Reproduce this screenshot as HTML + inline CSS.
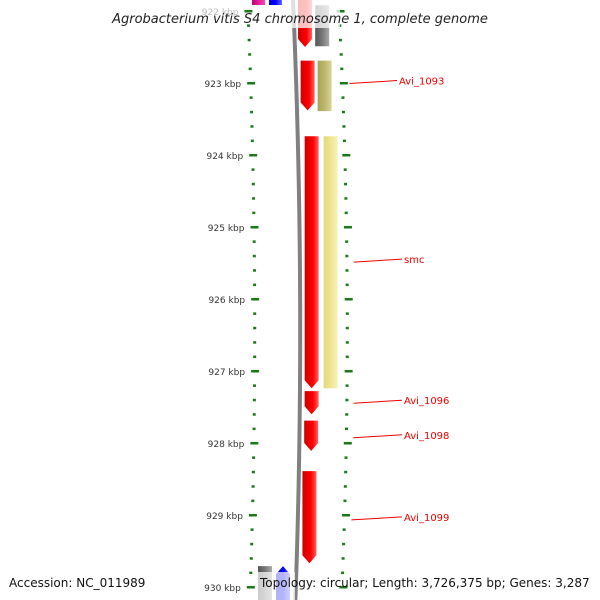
<!DOCTYPE html>
<html><head><meta charset="utf-8"><style>
body{margin:0;background:#fff}
svg{display:block;font-family:"DejaVu Sans","Liberation Sans",sans-serif}
</style></head><body>
<svg id="map" width="600" height="600" viewBox="0 0 600 600" xmlns="http://www.w3.org/2000/svg">
<defs>
<linearGradient id="gRed" x1="0" x2="1"><stop offset="0" stop-color="#c00"/><stop offset="0.6" stop-color="#f00"/><stop offset="1" stop-color="#ff6060"/></linearGradient>
<linearGradient id="gOlive" x1="0" x2="1"><stop offset="0" stop-color="#a8a45a"/><stop offset="0.5" stop-color="#bdb76b"/><stop offset="1" stop-color="#d8d49a"/></linearGradient>
<linearGradient id="gYellow" x1="0" x2="1"><stop offset="0" stop-color="#e0d880"/><stop offset="0.5" stop-color="#f0e68c"/><stop offset="1" stop-color="#f8f2c0"/></linearGradient>
<linearGradient id="gGray" x1="0" x2="1"><stop offset="0" stop-color="#555"/><stop offset="0.5" stop-color="#777"/><stop offset="1" stop-color="#aaa"/></linearGradient>
<linearGradient id="gBlue" x1="0" x2="1"><stop offset="0" stop-color="#00c"/><stop offset="0.5" stop-color="#00f"/><stop offset="1" stop-color="#66f"/></linearGradient>
<linearGradient id="gMag" x1="0" x2="1"><stop offset="0" stop-color="#c0007a"/><stop offset="1" stop-color="#ff40b0"/></linearGradient>
</defs>
<g id="layer"></g>
<text x="300" y="23" text-anchor="middle" font-size="13" font-style="italic" fill="#222">Agrobacterium vitis S4 chromosome 1, complete genome</text>
<text x="9" y="587" font-size="12" fill="#111">Accession: NC_011989</text>
<text x="260" y="587" font-size="12" fill="#111">Topology: circular; Length: 3,726,375 bp; Genes: 3,287</text>
</svg>
<script>
const kbpTicks=[922,923,924,925,926,927,928,929,930];
// genes: start/end in kbp, track, color
const geneStart=[921.8,921.92,922.69,922.69,923.74,923.74,927.28,927.69,928.39,929.71,929.71];
const geneEnd=[922.5,922.49,923.38,923.39,927.24,927.24,927.6,928.11,929.67,930.4,930.4];
const geneTrack=[0,1,0,1,0,1,0,0,0,-2,-1];
const geneFill=["pink","gray","red","olive","red","yellow","red","red","red","gray","blue"];
const geneDir=[1,0,1,0,1,0,1,1,1,0,-1];
const labelNames=["Avi_1093","smc","Avi_1096","Avi_1098","Avi_1099"];
const labelKbp=[922.98,925.46,927.42,927.9,929.04];
const topGenes=[{x:252,f:"url(#gMag)"},{x:269,f:"url(#gBlue)"}];

const NS="http://www.w3.org/2000/svg";
const layer=document.getElementById('layer');
const yOf=k=>11+(k-922)*72;
const bend=y=>8*(1-Math.pow((y-330)/330,2));
function el(t,a){const e=document.createElementNS(NS,t);for(const k in a)e.setAttribute(k,a[k]);layer.appendChild(e);return e;}
let d="";for(let y=0;y<=600;y+=10){d+=(y?"L":"M")+(293+bend(y)*0.9)+","+y;}
const bb=el('path',{d:d,stroke:"#808080","stroke-width":4,fill:"none"});


for(let k=921.8;k<=930.3;k+=0.2){
  const y=yOf(k);if(y<-5||y>600)continue;
  const major=Math.abs(k-Math.round(k))<0.01;
  const lx=246+bend(y)*0.9, rx=337+bend(y)*1.1;
  const w=major?8:3;
  const t1=el('rect',{x:lx+(major?-2:0),y:y-1,width:w,height:2.5,fill:"#1a7a1a"});
  
  
  const t2=el('rect',{x:rx+(major?-1:0),y:y-1,width:w,height:2.5,fill:"#1a7a1a"});
  
  
}
kbpTicks.forEach((k,i)=>{
  const y=yOf(k);
  const t=el('text',{x:238+bend(y)*0.9,y:y+4,"text-anchor":"end","font-size":"9",fill:i==0?"#bbb":"#333"});
  t.textContent=k+" kbp";
  
  
});
const fills={red:"url(#gRed)",olive:"url(#gOlive)",yellow:"url(#gYellow)",gray:"url(#gGray)",blue:"url(#gBlue)",pink:"url(#gRed)"};
geneStart.forEach((s,i)=>{
  let y1=yOf(s),y2=yOf(geneEnd[i]);y1=Math.max(y1,-2);
  const c=bend((y1+y2)/2);
  let x;
  if(geneTrack[i]==0)x=297+c;else if(geneTrack[i]==1)x=314+c+(i==5?2:0);else if(geneTrack[i]==-2)x=258;else x=276;
  const w=14;let p;
  if(geneDir[i]==1)p=`${x},${y1} ${x+w},${y1} ${x+w},${y2-8} ${x+w/2},${y2} ${x},${y2-8}`;
  else if(geneDir[i]==-1)p=`${x},${y1+8} ${x+w/2},${y1} ${x+w},${y1+8} ${x+w},${y2} ${x},${y2}`;
  else p=`${x},${y1} ${x+w},${y1} ${x+w},${y2} ${x},${y2}`;
  const g=el('polygon',{points:p,fill:fills[geneFill[i]]});
  
  
});
const ov=el('rect',{x:290,y:0,width:50,height:28,fill:"#fff",opacity:0.75});


topGenes.forEach(g=>{
  const r=el('rect',{x:g.x,y:0,width:13,height:5,fill:g.f});
  
  
});
const bov=el('rect',{x:255,y:572,width:40,height:28,fill:"#fff",opacity:0.7});


labelNames.forEach((n,i)=>{
  const y=yOf(labelKbp[i]);const c=bend(y);
  const ln=el('line',{x1:340+c+6,y1:y+2,x2:i==0?397:402,y2:y-1,stroke:"#e00","stroke-width":1});
  
  
  const t=el('text',{x:i==0?399:404,y:y+3,"font-size":"10",fill:"#e00"});
  t.textContent=n;
  
  
});
</script>
</body></html>
